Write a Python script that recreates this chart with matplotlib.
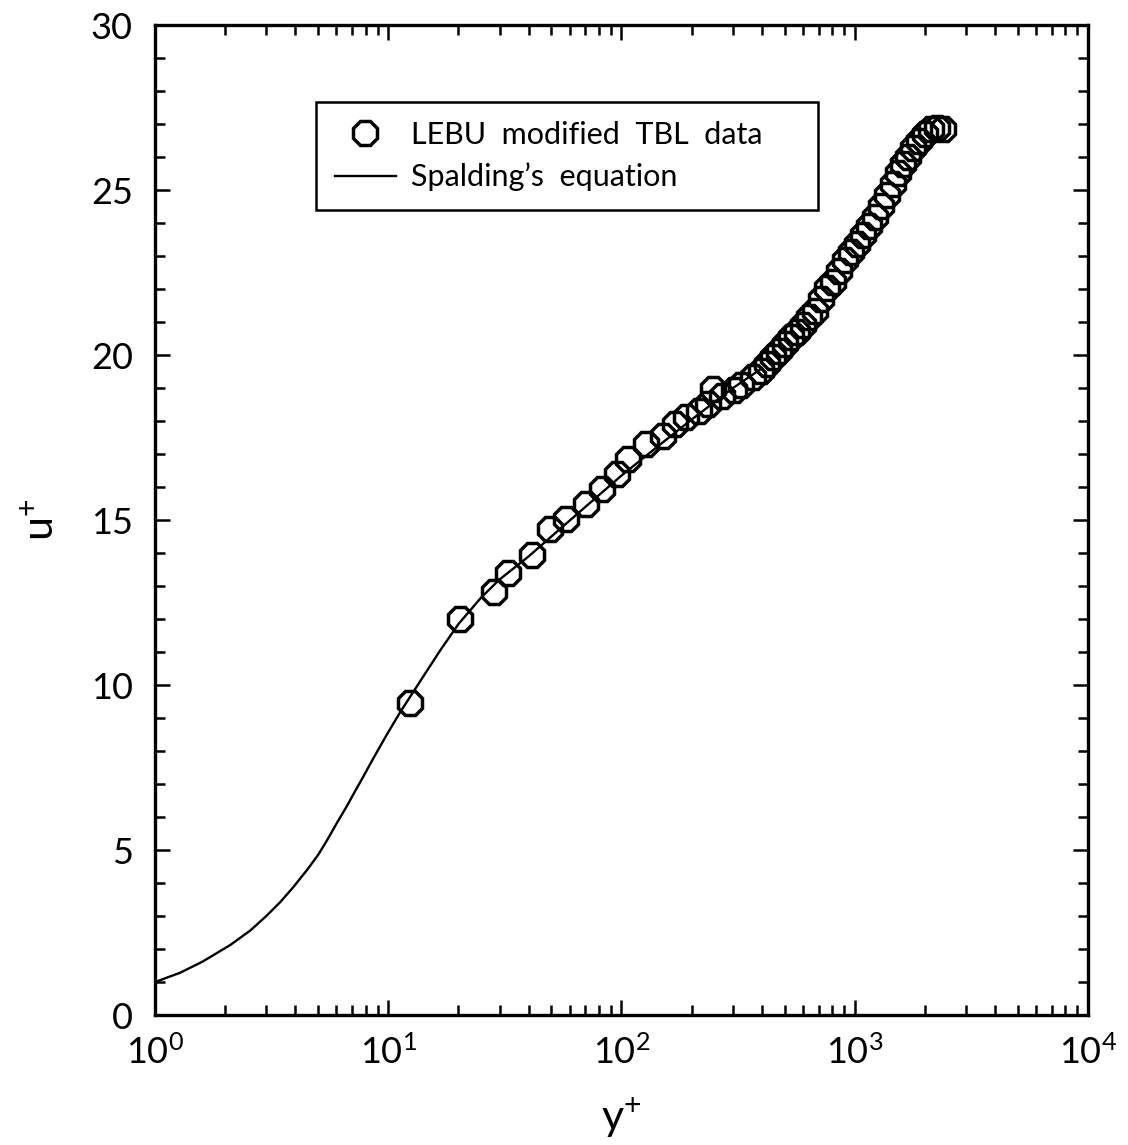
import matplotlib
matplotlib.use("Agg")
import matplotlib.pyplot as plt
from matplotlib.ticker import MultipleLocator, LogLocator, NullFormatter

plt.rcParams['font.family'] = ['Lato', 'DejaVu Sans']
plt.rcParams['mathtext.fontset'] = 'custom'
plt.rcParams['mathtext.rm'] = 'Lato'
plt.rcParams['mathtext.it'] = 'Lato'

# LEBU modified TBL data (y+, u+)
data_yplus = [12.4, 20.4, 28.5, 32.7, 41.5, 49.6, 58.1, 70.8, 82.9, 96.1,
              107, 127, 150, 169, 190, 214, 236, 246, 271, 303,
              324, 365, 395, 419, 445, 472, 501, 531, 564, 598,
              635, 673, 714, 758, 805, 853, 906, 961, 1020, 1082,
              1148, 1219, 1293, 1372, 1456, 1530, 1607, 1688, 1774, 1883,
              1996, 2120, 2249, 2387]
data_uplus = [9.47, 12.0, 12.82, 13.39, 13.94, 14.73, 15.03, 15.49, 15.94, 16.40,
              16.85, 17.31, 17.55, 17.92, 18.13, 18.31, 18.52, 18.98, 18.77, 18.95,
              19.10, 19.34, 19.53, 19.74, 19.95, 20.13, 20.35, 20.56, 20.71, 20.92,
              21.17, 21.35, 21.71, 22.02, 22.23, 22.56, 22.87, 23.14, 23.38, 23.63,
              23.90, 24.20, 24.51, 24.84, 25.20, 25.51, 25.78, 26.02, 26.27, 26.48,
              26.69, 26.84, 26.87, 26.84]

# Spalding's equation curve
spal_yplus = [1.0, 1.28, 1.6, 2.1, 2.56, 3.0, 3.44, 3.9, 4.49, 5.0, 5.47,
              6.0, 6.67, 7.1, 7.81, 8.6, 9.9, 11.3, 14.1, 16.7,
              20, 25, 30, 40, 50, 70, 100, 150, 200, 300, 400]
spal_uplus = [1.0, 1.28, 1.62, 2.12, 2.56, 3.0, 3.42, 3.86, 4.40, 4.85, 5.30,
              5.80, 6.35, 6.70, 7.22, 7.76, 8.52, 9.20, 10.25, 11.05,
              11.85, 12.65, 13.2, 13.9, 14.5, 15.4, 16.35, 17.35, 18.05, 19.0, 19.6]

fig = plt.figure(figsize=(11.28, 11.45), dpi=100)
ax = fig.add_axes([0.1374, 0.1135, 0.8271, 0.8645])

ax.plot(spal_yplus, spal_uplus, color='black', lw=1.7,
        label="Spalding\u2019s  equation", zorder=2)
ax.plot(data_yplus, data_uplus, linestyle='none', marker='8', ms=18.5,
        mfc='none', mec='black', mew=2.5, label='LEBU  modified  TBL  data',
        zorder=3)

ax.set_xscale('log')
ax.set_xlim(1, 1e4)
ax.set_ylim(0, 30)
ax.yaxis.set_major_locator(MultipleLocator(5))
ax.yaxis.set_minor_locator(MultipleLocator(1))
ax.xaxis.set_major_locator(LogLocator(base=10, numticks=10))
ax.xaxis.set_minor_locator(LogLocator(base=10, subs=range(2, 10), numticks=50))
ax.xaxis.set_minor_formatter(NullFormatter())

for s in ax.spines.values():
    s.set_linewidth(2.4)

ax.tick_params(which='both', direction='in', top=True, right=True,
               labelsize=26, width=1.8)
ax.tick_params(which='major', length=11)
ax.tick_params(axis='x', which='major', pad=14)
ax.tick_params(axis='y', which='major', pad=16)
ax.tick_params(which='minor', length=7)

ax.set_xlabel('y$^{+}$', fontsize=31, labelpad=18)
ax.set_ylabel('u$^{+}$', fontsize=31, labelpad=22)

h, l = ax.get_legend_handles_labels()
leg = ax.legend([h[1], h[0]], [l[1], l[0]], loc='upper left',
                bbox_to_anchor=(0.173, 0.813, 0.538, 0.109), mode='expand',
                fontsize=22, frameon=True,
                fancybox=False, framealpha=1, handlelength=2.0,
                borderpad=0.6, labelspacing=0.45, handletextpad=0.5,
                borderaxespad=0)
leg.get_frame().set_edgecolor('black')
leg.get_frame().set_linewidth(1.8)

fig.savefig('out.png', dpi=100)
